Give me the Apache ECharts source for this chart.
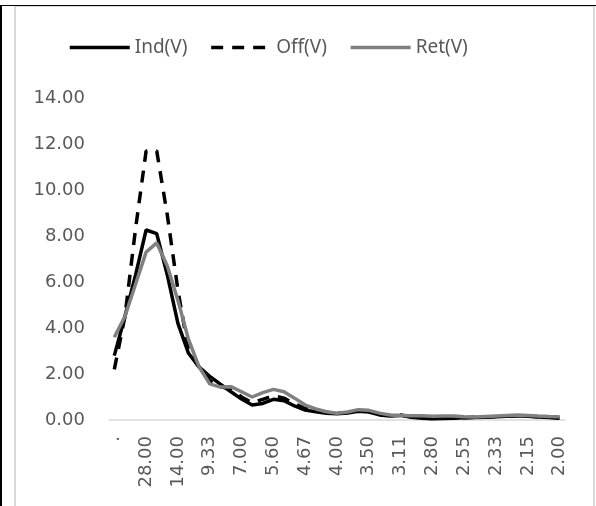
<!DOCTYPE html>
<html>
<head>
<meta charset="utf-8">
<style>
  html, body { margin: 0; padding: 0; background: #fff; }
  #chart { width: 596px; height: 506px; }
</style>
<script src="https://cdn.jsdelivr.net/npm/echarts@6/dist/echarts.min.js"></script>
</head>
<body>
<div id="chart"></div>
<script>
// x categories (84/n, every third label is shown)
const categories = [
  ".", "84.00", "42.00", "28.00", "21.00", "16.80", "14.00", "12.00", "10.50", "9.33",
  "8.40", "7.64", "7.00", "6.46", "6.00", "5.60", "5.25", "4.94", "4.67", "4.42",
  "4.20", "4.00", "3.82", "3.65", "3.50", "3.36", "3.23", "3.11", "3.00", "2.90",
  "2.80", "2.71", "2.63", "2.55", "2.47", "2.40", "2.33", "2.27", "2.21", "2.15",
  "2.10", "2.05", "2.00"
];

const indV = [
  2.8, 4.5, 6.3, 8.26, 8.1, 6.3, 4.2, 2.9, 2.3, 1.9,
  1.56, 1.23, 0.91, 0.65, 0.72, 0.9, 0.84, 0.61, 0.43, 0.36,
  0.29, 0.27, 0.3, 0.38, 0.35, 0.22, 0.17, 0.2, 0.12, 0.08,
  0.05, 0.06, 0.08, 0.1, 0.11, 0.12, 0.14, 0.16, 0.18, 0.16,
  0.13, 0.11, 0.08
];

const offV = [
  2.2, 4.5, 8.3, 11.7, 11.7, 8.9, 5.65, 3.0, 2.3, 1.7,
  1.45, 1.35, 1.0, 0.75, 0.9, 1.05, 0.95, 0.7, 0.5, 0.4,
  0.33, 0.3, 0.32, 0.42, 0.38, 0.25, 0.2, 0.22, 0.14, 0.1,
  0.07, 0.08, 0.09, 0.1, 0.12, 0.13, 0.15, 0.17, 0.19, 0.17,
  0.14, 0.12, 0.09
];

const retV = [
  3.6, 4.5, 5.9, 7.3, 7.7, 6.7, 5.2, 3.5, 2.3, 1.57,
  1.43, 1.45, 1.23, 1.0, 1.19, 1.33, 1.23, 0.95, 0.65, 0.48,
  0.36, 0.29, 0.35, 0.45, 0.42, 0.3, 0.22, 0.2, 0.18, 0.18,
  0.16, 0.17, 0.17, 0.14, 0.13, 0.15, 0.17, 0.2, 0.22, 0.2,
  0.17, 0.15, 0.14
];

const chart = echarts.init(document.getElementById('chart'), null, { renderer: 'canvas' });
const axisFont = 'DejaVu Sans';
const textColor = '#595959';

chart.setOption({
  animation: false,
  backgroundColor: '#fff',
  graphic: [
    { type: 'rect', shape: { x: 15, y: 6, width: 579, height: 520 }, style: { fill: 'none', stroke: '#d9d9d9', lineWidth: 2 }, silent: true },
    { type: 'rect', shape: { x: 0, y: 5, width: 596, height: 1 }, style: { fill: '#000' }, silent: true },
    { type: 'rect', shape: { x: 0, y: 5, width: 2, height: 501 }, style: { fill: '#000' }, silent: true }
  ],
  legend: {
    left: 63,
    top: 33,
    itemWidth: 60,
    itemHeight: 14,
    itemGap: 22,
    itemStyle: { opacity: 0, borderWidth: 0 },
    lineStyle: { width: 3.5 },
    textStyle: { fontFamily: 'Noto Sans', fontSize: 19, color: textColor },
    data: ['Ind(V)', 'Off(V)', 'Ret(V)']
  },
  grid: { left: 109, right: 31, top: 98, bottom: 86, containLabel: false },
  xAxis: {
    type: 'category',
    data: categories,
    boundaryGap: true,
    axisLine: { lineStyle: { color: '#d9d9d9', width: 1.5 } },
    axisTick: { show: false },
    axisLabel: {
      interval: 2,
      rotate: 90,
      margin: 16,
      fontFamily: axisFont,
      fontSize: 18,
      color: textColor
    }
  },
  yAxis: {
    type: 'value',
    min: 0,
    max: 14,
    interval: 2,
    axisLine: { show: false },
    axisTick: { show: false },
    splitLine: { show: false },
    axisLabel: {
      margin: 24,
      fontFamily: axisFont,
      fontSize: 18,
      color: textColor,
      formatter: v => v.toFixed(2)
    }
  },
  series: [
    { name: 'Ind(V)', type: 'line', data: indV, symbol: 'none', lineStyle: { color: '#000', width: 3.5 }, itemStyle: { color: '#000' } },
    { name: 'Off(V)', type: 'line', data: offV, symbol: 'none', lineStyle: { color: '#000', width: 3.5, type: [12, 9] }, itemStyle: { color: '#000' } },
    { name: 'Ret(V)', type: 'line', data: retV, symbol: 'none', lineStyle: { color: '#808080', width: 3.5 }, itemStyle: { color: '#808080' } }
  ]
});
</script>
</body>
</html>
